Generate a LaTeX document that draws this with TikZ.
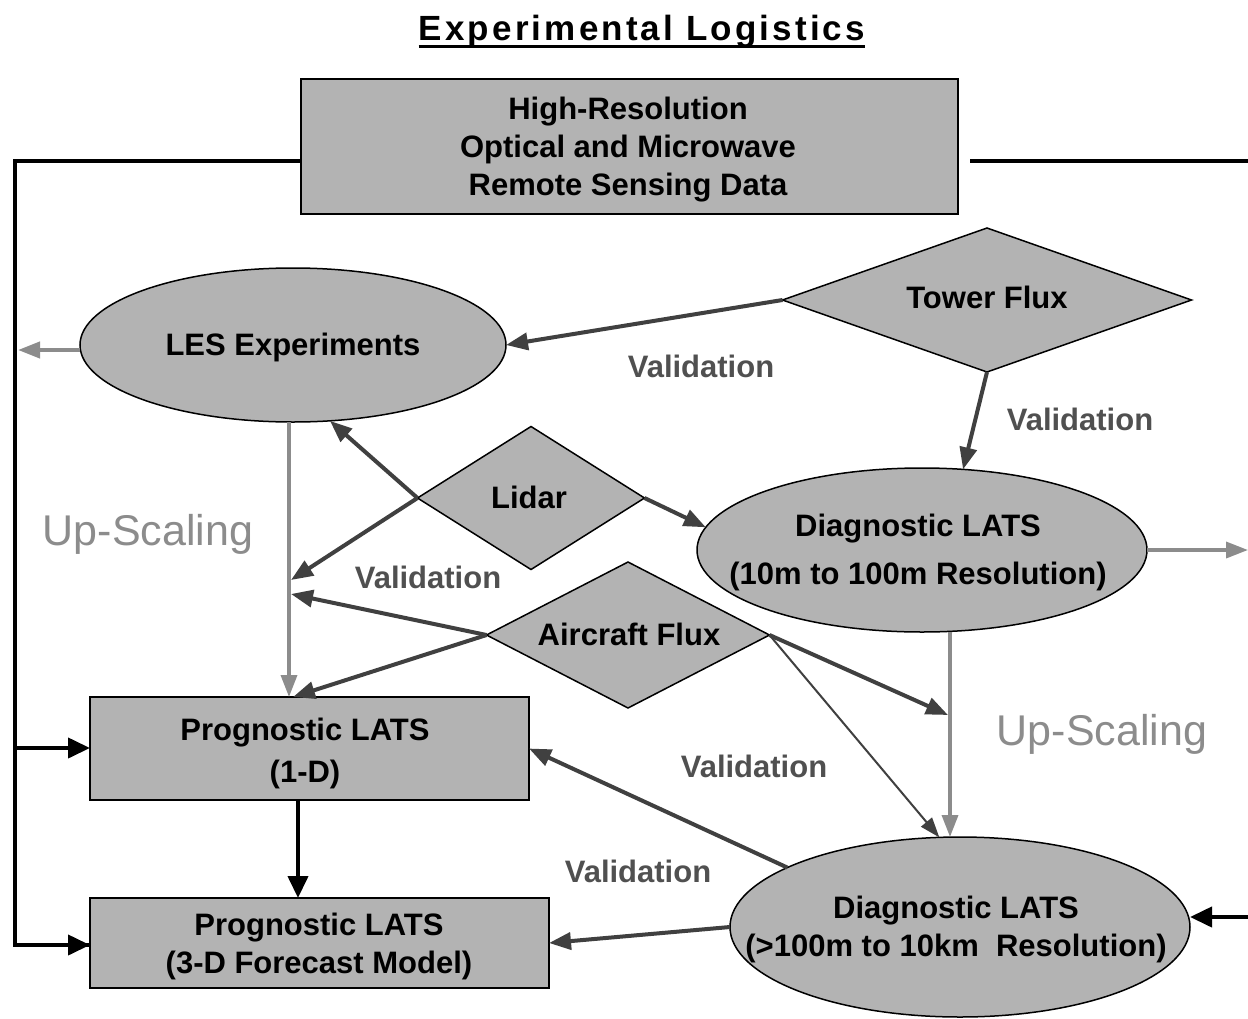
\documentclass[tikz,border=0pt]{standalone}
\usepackage{fontspec}
\setmainfont{Liberation Sans}
\newfontfamily\titlefont[LetterSpace=9]{Liberation Sans}
\usetikzlibrary{shapes.geometric,arrows.meta}
\definecolor{boxfill}{HTML}{B3B3B3}
\definecolor{darkarrow}{HTML}{404040}
\definecolor{upgray}{HTML}{8C8C8C}
\definecolor{valtext}{HTML}{505050}
\begin{document}
\begin{tikzpicture}[x=1pt,y=-1pt,
  shapebase/.style={draw=black,fill=boxfill,inner sep=0pt,outer sep=0pt},
  rectbox/.style={shapebase,rectangle,line width=2pt},
  ellbox/.style={shapebase,ellipse,line width=1.5pt},
  diabox/.style={shapebase,diamond,line width=1.5pt},
  txt/.style={font=\fontsize{31}{38}\selectfont\bfseries,align=center,inner sep=0pt},
  valtxt/.style={font=\fontsize{31}{38}\selectfont\bfseries,text=valtext,inner sep=0pt},
  uptxt/.style={font=\fontsize{43}{50}\selectfont,text=upgray,inner sep=0pt,anchor=base},
  valarrow/.style={draw=darkarrow,line width=4pt,-{Triangle[length=22pt,width=17pt]}},
  thinarrow/.style={draw=darkarrow,line width=2pt,-{Triangle[length=20pt,width=14pt]}},
  uparrow/.style={draw=upgray,line width=3.5pt,-{Triangle[length=22pt,width=16pt]}},
  blkarrow/.style={draw=black,line width=4pt,-{Triangle[length=22pt,width=20pt]}},
  blkline/.style={draw=black,line width=4pt,line join=miter},
]
\useasboundingbox (0,0) rectangle (1248,1018);
\fill[white] (0,0) rectangle (1248,1018);

% title
\node[font=\fontsize{35}{40}\selectfont\titlefont\bfseries,inner sep=0pt,anchor=base] (title) at (642,40) {Experimental Logistics};
\draw[line width=3pt] ([yshift=-6pt]title.base west) -- ([yshift=-6pt]title.base east);

% shapes
\node[rectbox,minimum width=657pt,minimum height=135pt] (top) at (629.5,146.5) {};
\node[ellbox,minimum width=426pt,minimum height=154pt] (les) at (293,345) {};
\node[diabox,minimum width=409pt,minimum height=144pt] (tower) at (987,300) {};
\node[diabox,minimum width=227pt,minimum height=143pt] (lidar) at (531,498) {};
\node[ellbox,minimum width=450pt,minimum height=164pt] (d1) at (922,550) {};
\node[diabox,minimum width=283pt,minimum height=146pt] (air) at (628,635) {};
\node[rectbox,minimum width=439pt,minimum height=103pt] (p1) at (309.5,748.5) {};
\node[rectbox,minimum width=459pt,minimum height=90pt] (p3) at (319.5,943) {};
\node[ellbox,minimum width=460pt,minimum height=180pt] (d2) at (960,927) {};

% texts in shapes
\node[txt] (topT) at (628,150) {High-Resolution\\Optical and Microwave\\Remote Sensing Data};
\node[txt] (lesT) at (293,347) {LES Experiments};
\node[txt] (towerT) at (987,297) {Tower Flux};
\node[txt] (lidarT) at (529,497) {Lidar};
\node[txt] (d1T) at (918,552) {Diagnostic LATS\\[10pt](10m to 100m Resolution)};
\node[txt] (airT) at (629,634) {Aircraft Flux};
\node[txt] (p1T) at (305,753) {Prognostic LATS\\[4pt](1-D)};
\node[txt] (p3T) at (319,946) {Prognostic LATS\\(3-D Forecast Model)};
\node[txt] (d2T) at (956,929) {Diagnostic LATS\\(>100m to 10km\ \ Resolution)};

% labels
\node[valtxt] (v1) at (701,366) {Validation};
\node[valtxt] (v2) at (1080,419) {Validation};
\node[valtxt] (v3) at (428,577) {Validation};
\node[valtxt] (v4) at (754,766) {Validation};
\node[valtxt] (v5) at (638,871) {Validation};
\node[uptxt] (u1) at (148,545) {Up-Scaling};
\node[uptxt] (u2) at (1102,745) {Up-Scaling};

% coordinates
\coordinate (tl) at (301,161);
\coordinate (cTL) at (15,161);
\coordinate (cBL) at (15,945);
\coordinate (jL) at (15,748);
\coordinate (tr) at (970,161);
\coordinate (edgeR) at (1248,161);
\coordinate (lesOut) at (18,350);
\coordinate (d1Out) at (1248,550);
\coordinate (d2In) at (1248,917);
\coordinate (gL) at (289,600);
\coordinate (lMidA) at (291,580);
\coordinate (lMidB) at (291,594);
\coordinate (rMid) at (948,715);
\coordinate (gR) at (950,700);
\coordinate (gK) at (298,850);

% black frame lines
\draw[blkline] (tl) -- (cTL) -- (cBL) -- (cBL -| p3.west);
\draw[blkarrow] (cBL) -- (cBL -| p3.west);
\draw[blkarrow] (jL) -- (jL -| p1.west);
\draw[blkline] (tr) -- (edgeR);
\draw[blkarrow] (d2In) -- (d2In -| d2.east);
\draw[blkarrow] (p1.south -| gK) -- (p3.north -| gK);

% gray arrows
\draw[uparrow,line width=4pt] (les.west |- lesOut) -- (lesOut);
\draw[uparrow] (d1.east) -- (d1Out);
\draw[uparrow] (les.south -| gL) -- (p1.north -| gL);
\draw[uparrow] (d1.south -| gR) -- (d2.north -| gR);

% validation arrows
\draw[valarrow] (tower.west) -- (les.east);
\draw[valarrow] (tower.south) -- (d1.63);
\draw[valarrow] (lidar.west) -- (les.-64);
\draw[valarrow] (lidar.west) -- (lMidA);
\draw[valarrow] (lidar.east) -- (d1.174);
\draw[valarrow] (air.west) -- (lMidB);
\draw[valarrow] (air.west) -- ([xshift=4pt]p1.north -| gL);
\draw[valarrow] (air.east) -- (rMid);
\draw[thinarrow] (air.east) -- (d2.103);
\draw[valarrow] (d2.161) -- (p1.east);
\draw[valarrow] (d2.west) -- (p3.east);
\end{tikzpicture}
\end{document}
